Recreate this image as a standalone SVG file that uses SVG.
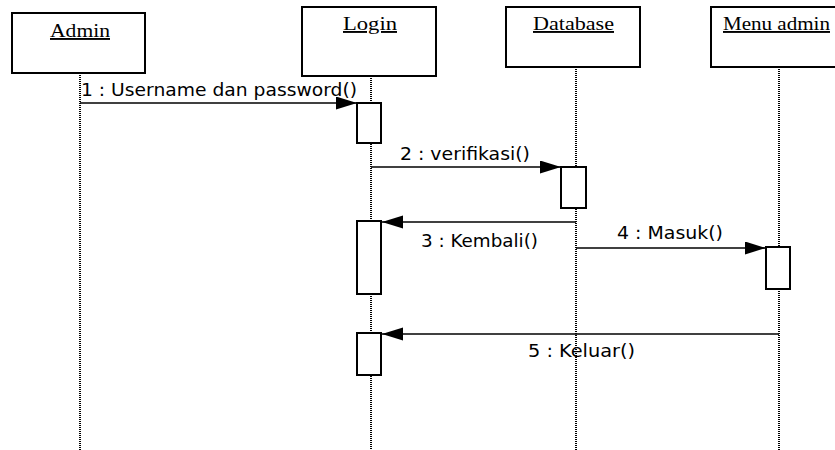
<svg xmlns="http://www.w3.org/2000/svg" width="835" height="450" viewBox="0 0 835 450">
<style>
.box{fill:#fff;stroke:#000;stroke-width:2}
.hd{font-family:"Liberation Serif","Times New Roman",serif;font-size:19px;fill:#000;text-decoration:underline}
.life{stroke:#000;stroke-width:2;stroke-dasharray:1 1;fill:none}
.act{fill:#fff;stroke:#000;stroke-width:2}
.msg{stroke:#000;stroke-width:1.5;fill:none;marker-end:url(#ah)}
.lbl{font-family:"DejaVu Sans",Verdana,sans-serif;font-size:18px;fill:#000}
</style>
<defs>
<marker id="ah" markerUnits="userSpaceOnUse" markerWidth="22" markerHeight="14" refX="21" refY="6.5" orient="auto">
<path d="M0,0 L21,6.5 L0,13 Z" fill="#000"/>
</marker>
</defs>
<rect width="835" height="450" fill="#fff"/>
<g id="lifelines">
<line class="life" x1="80" y1="73" x2="80" y2="450"/>
<line class="life" x1="371" y1="76" x2="371" y2="450"/>
<line class="life" x1="576" y1="67" x2="576" y2="450"/>
<line class="life" x1="779" y1="67" x2="779" y2="450"/>
</g>
<g id="admin">
<rect class="box" x="12" y="13" width="133" height="60"/>
<text class="hd" x="50" y="37" textLength="60" lengthAdjust="spacingAndGlyphs">Admin</text>
</g>
<g id="login">
<rect class="box" x="302" y="7" width="134" height="69"/>
<text class="hd" x="343" y="30" textLength="54" lengthAdjust="spacingAndGlyphs">Login</text>
<rect class="act" x="357" y="103" width="24" height="40"/>
<rect class="act" x="357" y="221" width="24" height="73"/>
<rect class="act" x="357" y="333" width="24" height="42"/>
</g>
<g id="database">
<rect class="box" x="506" y="7" width="134" height="60"/>
<text class="hd" x="533" y="30" textLength="81" lengthAdjust="spacingAndGlyphs">Database</text>
<rect class="act" x="561" y="167" width="25" height="41"/>
</g>
<g id="menuadmin">
<rect class="box" x="711" y="7" width="134" height="60"/>
<text class="hd" x="723" y="30" textLength="107" lengthAdjust="spacingAndGlyphs">Menu admin</text>
<rect class="act" x="766" y="247" width="24" height="42"/>
</g>
<g id="connectors">
<line class="msg" x1="80" y1="103" x2="357" y2="103"/>
<text class="lbl" x="81" y="96" textLength="276" lengthAdjust="spacingAndGlyphs">1 : Username dan password()</text>
<line class="msg" x1="371" y1="167" x2="561" y2="167"/>
<text class="lbl" x="400" y="160" textLength="130" lengthAdjust="spacingAndGlyphs">2 : verifikasi()</text>
<line class="msg" x1="576" y1="222" x2="382" y2="222"/>
<text class="lbl" x="421" y="247" textLength="117" lengthAdjust="spacingAndGlyphs">3 : Kembali()</text>
<line class="msg" x1="576" y1="248" x2="766" y2="248"/>
<text class="lbl" x="617" y="239" textLength="106" lengthAdjust="spacingAndGlyphs">4 : Masuk()</text>
<line class="msg" x1="779" y1="334" x2="382" y2="334"/>
<text class="lbl" x="528" y="357" textLength="107" lengthAdjust="spacingAndGlyphs">5 : Keluar()</text>
</g>
</svg>
